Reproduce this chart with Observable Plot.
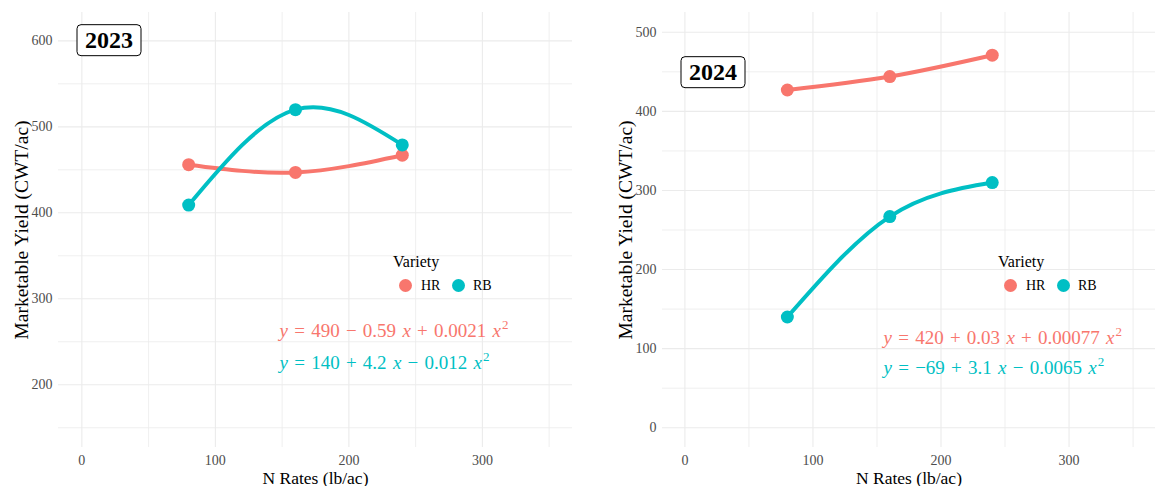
<!DOCTYPE html>
<html>
<head>
<meta charset="utf-8">
<script src="https://cdn.jsdelivr.net/npm/d3@7"></script>
<script src="https://cdn.jsdelivr.net/npm/@observablehq/plot@0.6"></script>
<style>
  body { margin: 0; background: #fff; font-family: "Liberation Serif", serif; }
  #row { display: flex; width: 1166px; height: 486px; }
  .panel { position: relative; width: 583px; height: 486px; }
  .legend { position: absolute; width: 110px; height: 50px; color: #000; }
  .legend .title { position: absolute; left: 0; top: 0; font-size: 16px; line-height: 18px; }
  .legend .key { position: absolute; width: 13px; height: 13px; border-radius: 50%; top: 26px; }
  .legend .lab { position: absolute; top: 24px; font-size: 14px; line-height: 17px; }
</style>
</head>
<body>
<div id="row"></div>
<script>
// Nitrogen rates (lb/ac) and marketable yield (CWT/ac) by variety and season
const nRates = [80, 160, 240];
const varieties = ["HR", "RB"];
const varietyColors = ["#F8766D", "#00BFC4"];

const yield2023HR = [456, 447, 467];
const yield2023RB = [409, 520, 479];
const yield2024HR = [427, 444, 471];
const yield2024RB = [140, 267, 310];

// Fitted quadratic equations printed on each panel
const equations2023 = ["y = 490 − 0.59 x + 0.0021 x^2", "y = 140 + 4.2 x − 0.012 x^2"];
const equations2024 = ["y = 420 + 0.03 x + 0.00077 x^2", "y = −69 + 3.1 x − 0.0065 x^2"];

// Axis ticks and grid lines
const xTicks = [0, 100, 200, 300];
const xMinor = [50, 150, 250, 350];
const yTicks2023 = [200, 300, 400, 500, 600];
const yMinor2023 = [150, 250, 350, 450, 550];
const yTicks2024 = [0, 100, 200, 300, 400, 500];
const yMinor2024 = [50, 150, 250, 350, 450];

const xTitle = "N Rates (lb/ac)";
const yTitle = "Marketable Yield (CWT/ac)";
const legendTitle = "Variety";

const SVGNS = "http://www.w3.org/2000/svg";

function rows(series) {
  return varieties.flatMap((variety, i) =>
    nRates.map((n, j) => ({variety, n, yield: series[i][j]}))
  );
}

const panels = [
  {year: "2023", data: rows([yield2023HR, yield2023RB]), equations: equations2023,
   yDomain: [127, 633], yTicks: yTicks2023, yMinor: yMinor2023,
   marginLeft: 58, yearDy: 28, eqDy: [318, 350], legendLeft: 393},
  {year: "2024", data: rows([yield2024HR, yield2024RB]), equations: equations2024,
   yDomain: [-25, 525], yTicks: yTicks2024, yMinor: yMinor2024,
   marginLeft: 79, yearDy: 60, eqDy: [325, 355], legendLeft: 415}
];

const row = document.getElementById("row");

for (const p of panels) {
  const gridStyle = {stroke: "#ebebeb", strokeOpacity: 1};
  const plot = Plot.plot({
    width: 583,
    height: 486,
    marginLeft: p.marginLeft,
    marginRight: 11,
    marginTop: 12,
    marginBottom: 39,
    style: {fontFamily: "Liberation Serif, serif", background: "white", overflow: "visible"},
    x: {domain: [-17.5, 367.5]},
    y: {domain: p.yDomain},
    color: {domain: varieties, range: varietyColors},
    marks: [
      Plot.gridX(xMinor, {...gridStyle, strokeWidth: 0.8}),
      Plot.gridY(p.yMinor, {...gridStyle, strokeWidth: 0.8}),
      Plot.gridX(xTicks, {...gridStyle, strokeWidth: 1.1}),
      Plot.gridY(p.yTicks, {...gridStyle, strokeWidth: 1.1}),
      Plot.axisX(xTicks, {tickSize: 0, tickPadding: 8, fontSize: 14, fill: "#4d4d4d", label: null}),
      Plot.axisY(p.yTicks, {tickSize: 0, tickPadding: 6, fontSize: 14, fill: "#4d4d4d", label: null}),
      Plot.text([xTitle], {frameAnchor: "bottom", dy: 31, lineAnchor: "middle", fontSize: 17.5, fill: "black"}),
      Plot.text([yTitle], {frameAnchor: "left", dx: -37, rotate: -90, textAnchor: "middle",
        lineAnchor: "middle", fontSize: 19.5, fill: "black"}),
      Plot.line(p.data, {x: "n", y: "yield", stroke: "variety", z: "variety", strokeWidth: 4, curve: "natural"}),
      Plot.dot(p.data, {x: "n", y: "yield", fill: "variety", r: 6.5}),
      Plot.text([p.year], {frameAnchor: "top-left", dx: 50.5, dy: p.yearDy, textAnchor: "middle",
        lineAnchor: "middle", fontSize: 24, fontWeight: "bold", fill: "black", className: "yearlab"}),
      ...p.equations.map((eq, i) =>
        Plot.text([eq], {frameAnchor: "top-left", dx: 221, dy: p.eqDy[i], textAnchor: "start",
          lineAnchor: "middle", fontSize: 19, fill: varietyColors[i], className: "eqlab"})
      )
    ]
  });

  const panel = document.createElement("div");
  panel.className = "panel";
  panel.appendChild(plot);
  row.appendChild(panel);

  // Italic x and y and a raised exponent in the fitted equations
  plot.querySelectorAll("g.eqlab text").forEach(t => {
    const s = t.textContent;
    t.textContent = "";
    t.setAttribute("word-spacing", "1.5");
    for (const part of s.split(/([xy]|\^2)/)) {
      if (!part) continue;
      const span = document.createElementNS(SVGNS, "tspan");
      if (part === "^2") {
        span.textContent = "2";
        span.setAttribute("font-size", "13");
        span.setAttribute("dx", "1");
        span.setAttribute("dy", "-8");
      } else {
        if (part === "x" || part === "y") span.setAttribute("font-style", "italic");
        span.textContent = part;
      }
      t.appendChild(span);
    }
  });

  // Rounded box behind the season label
  plot.querySelectorAll("g.yearlab text").forEach(t => {
    const b = t.getBBox();
    const r = document.createElementNS(SVGNS, "rect");
    r.setAttribute("x", b.x - 8);
    r.setAttribute("y", b.y - 2.5);
    r.setAttribute("width", b.width + 16);
    r.setAttribute("height", b.height + 5);
    r.setAttribute("rx", 4);
    r.setAttribute("fill", "white");
    r.setAttribute("stroke", "black");
    r.setAttribute("stroke-width", 1);
    if (t.getAttribute("transform")) r.setAttribute("transform", t.getAttribute("transform"));
    t.parentNode.insertBefore(r, t);
  });

  // Legend for variety colours
  const color = plot.scale("color");
  const legend = document.createElement("div");
  legend.className = "legend";
  legend.style.left = p.legendLeft + "px";
  legend.style.top = "253px";
  const title = document.createElement("div");
  title.className = "title";
  title.textContent = legendTitle;
  legend.appendChild(title);
  varieties.forEach((v, i) => {
    const key = document.createElement("div");
    key.className = "key";
    key.style.left = (5.5 + 53 * i) + "px";
    key.style.background = color.apply(v);
    const lab = document.createElement("div");
    lab.className = "lab";
    lab.style.left = (28 + 52 * i) + "px";
    lab.textContent = v;
    legend.appendChild(key);
    legend.appendChild(lab);
  });
  panel.appendChild(legend);
}
</script>
</body>
</html>
